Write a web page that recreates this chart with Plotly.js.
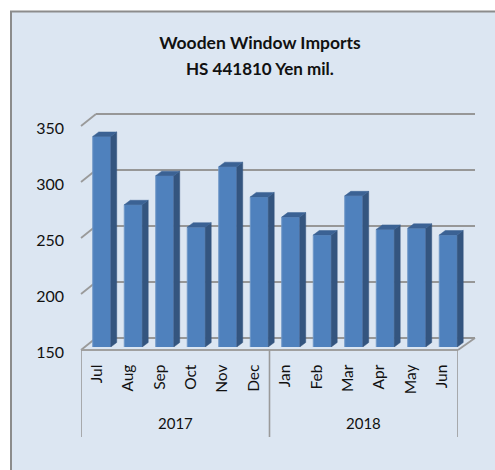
<!DOCTYPE html>
<html><head><meta charset="utf-8">
<script src="https://cdn.plot.ly/plotly-3.0.1.min.js"></script>
<style>html,body{margin:0;padding:0;background:#fff}#c{width:495px;height:470px}</style>
</head><body><div id="c"></div>
<script>
const months = ['Jul','Aug','Sep','Oct','Nov','Dec','Jan','Feb','Mar','Apr','May','Jun'];
const imports = [338,277,303,257,311,284,266,250,285,255,256,250];
const years = ['2017','2018'];
const yearCenters = [2.5,8.5];
const yearDividers = [-0.5,5.5,11.5];
const yTicks = [150,200,250,300,350];

const W=495,H=470,FONT='Lato, Carlito, Calibri, sans-serif';
const px=x=>x/W, py=y=>1-y/H;
const barW=0.57, depthX=0.19, depthY=4;
const idx=months.map((_,i)=>i);

const sideX=[],sideY=[],topX=[],topY=[];
imports.forEach((v,i)=>{
  const r=i+barW/2,l=i-barW/2;
  sideX.push(r,r+depthX,r+depthX,r,r,null);
  sideY.push(150,150+depthY,v+depthY,v,150,null);
  topX.push(l,l+depthX,r+depthX,r,l,null);
  topY.push(v,v+depthY,v+depthY,v,v,null);
});

const data=[
 {type:'scatter',mode:'none',x:[0],y:[150],xaxis:'x',yaxis:'y',hoverinfo:'skip',showlegend:false},
 {type:'bar',x:idx,y:imports,width:barW,xaxis:'x2',yaxis:'y2',marker:{color:'#4F81BD',line:{color:'#6E97C8',width:1}},showlegend:false,name:'Imports'},
 {type:'scatter',mode:'lines',x:sideX,y:sideY,fill:'toself',fillcolor:'#34557F',line:{color:'#34557F',width:0.5},xaxis:'x2',yaxis:'y2',hoverinfo:'skip',showlegend:false},
 {type:'scatter',mode:'lines',x:topX,y:topY,fill:'toself',fillcolor:'#3B6294',line:{color:'#3B6294',width:0.5},xaxis:'x2',yaxis:'y2',hoverinfo:'skip',showlegend:false},
 {type:'scatter',mode:'none',x:[0],y:[150],xaxis:'x3',yaxis:'y3',hoverinfo:'skip',showlegend:false}
];

const hidden={showgrid:false,zeroline:false,showline:false,showticklabels:false,ticks:''};
const shapes=[
 {type:'rect',xref:'paper',yref:'paper',x0:px(11),x1:px(497),y0:py(472),y1:py(11.5),fillcolor:'#DCE6F2',line:{color:'#8C8C8C',width:2},layer:'below'}
];
const gray={color:'#9A9A9A',width:1.8};
yTicks.forEach(t=>{
  const yf=350-(t-150)*1.12, yb=yf-12;
  shapes.push({type:'line',xref:'paper',yref:'paper',x0:px(81),x1:px(96),y0:py(yf),y1:py(yb),line:gray,layer:'below'});
});
shapes.push({type:'line',xref:'paper',yref:'paper',x0:px(81),x1:px(458),y0:py(350),y1:py(350),line:{color:'#A0A0A0',width:2.2},layer:'below'});
shapes.push({type:'line',xref:'paper',yref:'paper',x0:px(458),x1:px(475),y0:py(350),y1:py(338),line:gray,layer:'below'});
yearDividers.forEach(d=>{
  shapes.push({type:'line',xref:'x3',yref:'paper',x0:d,x1:d,y0:py(350),y1:py(437),line:{color:'#9A9A9A',width:1.6},layer:'below'});
});

const annotations=[
 {text:'HS 441810 Yen mil.',xref:'paper',yref:'paper',x:px(260),y:py(68.5),xanchor:'center',yanchor:'middle',showarrow:false,font:{family:FONT,size:17,color:'#111',weight:700}}
];
years.forEach((y,i)=>annotations.push({text:y,xref:'x3',yref:'paper',x:yearCenters[i],y:py(423),xanchor:'center',yanchor:'middle',showarrow:false,font:{family:FONT,size:15,color:'#111'}}));

const layout={
 width:W,height:H,margin:{l:0,r:0,t:0,b:0},paper_bgcolor:'#fff',plot_bgcolor:'rgba(0,0,0,0)',
 showlegend:false,bargap:0.43,
 title:{text:'Wooden Window Imports',font:{family:FONT,size:17.5,color:'#111',weight:700},x:px(260),xanchor:'center',xref:'paper',y:py(43),yanchor:'middle',yref:'paper'},
 xaxis:{...hidden,domain:[px(96),px(475)],range:[-0.5,11.5],anchor:'y'},
 yaxis:{domain:[py(342),py(110)],range:[146.43,353.57],tickvals:yTicks,tickmode:'array',showgrid:true,gridcolor:'#979797',gridwidth:2.4,zeroline:false,showline:false,showticklabels:false,ticks:'',anchor:'x'},
 xaxis2:{...hidden,domain:[px(86),px(464)],range:[-0.5,11.5],anchor:'y2'},
 yaxis2:{...hidden,domain:[py(347),py(123)],range:[150,350],anchor:'x2'},
 xaxis3:{domain:[px(81),px(458)],range:[-0.5,11.5],anchor:'y3',tickmode:'array',tickvals:idx,ticktext:months,tickangle:-90,showgrid:false,zeroline:false,showline:false,ticks:'',ticklabelstandoff:8,tickfont:{family:FONT,size:15.5,color:'#111'}},
 yaxis3:{domain:[py(352.5),py(128.5)],range:[150,350],anchor:'x3',tickmode:'array',tickvals:yTicks,ticktext:yTicks.map(String),showgrid:false,zeroline:false,showline:false,ticks:'',ticklabelstandoff:16,tickfont:{family:FONT,size:16,color:'#111'}},
 shapes,annotations
};
Plotly.newPlot('c',data,layout,{displayModeBar:false,staticPlot:true});
</script></body></html>
